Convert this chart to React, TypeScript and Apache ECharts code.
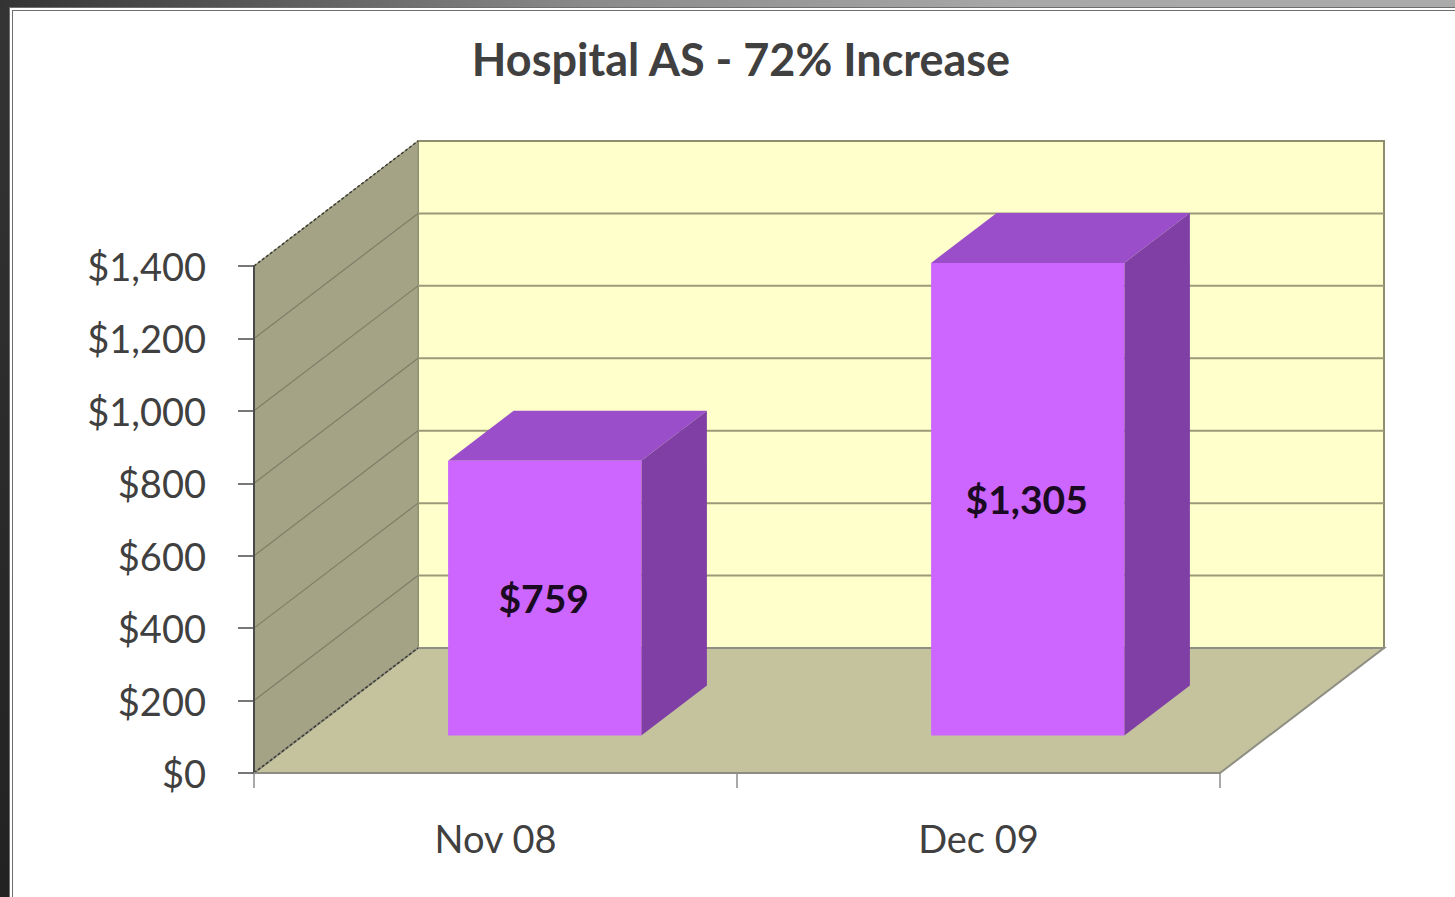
import React, { useEffect, useRef } from "react";
import * as echarts from "echarts";

const categories = ["Nov 08", "Dec 09"];
const values = [759, 1305];
const yTicks = [0, 200, 400, 600, 800, 1000, 1200, 1400];
const titleText = "Hospital AS - 72% Increase";

const DX = 164;
const DY = -125;
const FONT = "Lato, 'Open Sans', sans-serif";

const fmt = (v: number) => "$" + v.toLocaleString("en-US");

export default function App() {
  const ref = useRef<HTMLDivElement>(null);
  useEffect(() => {
    if (!ref.current) return;
    const chart = echarts.init(ref.current, null, { renderer: "svg" });
    const option: any = {
      animation: false,
      title: {
        text: titleText,
        left: 736,
        textAlign: "center",
        top: 31,
        textStyle: { fontFamily: FONT, fontSize: 45, fontWeight: "bold", color: "#404040" },
      },
      grid: { left: 254, top: 266, width: 966, height: 507 },
      xAxis: {
        type: "category",
        data: categories,
        z: 5,
        axisLine: { lineStyle: { color: "#8c8c82", width: 2 } },
        axisTick: { show: true, length: 15, lineStyle: { color: "#8c8c8c", width: 1.5 } },
        axisLabel: { fontFamily: FONT, fontSize: 38, color: "#404040", margin: 46 },
        splitLine: { show: false },
      },
      yAxis: {
        type: "value",
        min: 0,
        max: 1400,
        interval: 200,
        z: 5,
        axisLine: { show: true, lineStyle: { color: "#4a4a4a", width: 2 } },
        axisTick: { show: true, length: 16, lineStyle: { color: "#4a4a4a", width: 1.5 } },
        axisLabel: { fontFamily: FONT, fontSize: 38, color: "#404040", margin: 48, formatter: (v: number) => fmt(v) },
        splitLine: { show: false },
      },
      series: [
        {
          type: "custom",
          silent: true,
          z: 1,
          data: [[0, 0]],
          renderItem: (params: any) => {
            const { x, y, width: w, height: h } = params.coordSys;
            return {
              type: "group",
              children: [
                {
                  type: "rect",
                  shape: { x: x + DX, y: y + DY, width: w, height: h },
                  style: { fill: "#ffffcc", stroke: "#8e8e6e", lineWidth: 2 },
                },
                {
                  type: "polygon",
                  shape: { points: [[x, y + h], [x, y], [x + DX, y + DY], [x + DX, y + h + DY]] },
                  style: { fill: "#a4a385", stroke: "#8e8e72", lineWidth: 1 },
                },
                {
                  type: "polygon",
                  shape: { points: [[x, y + h], [x + w, y + h], [x + w + DX, y + h + DY], [x + DX, y + h + DY]] },
                  style: { fill: "#c4c39e", stroke: "#8e8e82", lineWidth: 2 },
                },
                {
                  type: "line",
                  shape: { x1: x, y1: y, x2: x + DX, y2: y + DY },
                  style: { stroke: "#3c3c30", lineWidth: 1.5, lineDash: [3, 2] },
                },
                {
                  type: "line",
                  shape: { x1: x, y1: y + h, x2: x + DX, y2: y + h + DY },
                  style: { stroke: "#3c3c30", lineWidth: 1.5, lineDash: [3, 2] },
                },
              ],
            };
          },
        },
        {
          type: "custom",
          silent: true,
          z: 2,
          data: yTicks.slice(1, -1).map((v) => [0, v]),
          renderItem: (params: any, api: any) => {
            const { x, width: w } = params.coordSys;
            const yy = api.coord([0, api.value(1)])[1];
            return {
              type: "group",
              children: [
                {
                  type: "line",
                  shape: { x1: x + DX, y1: yy + DY, x2: x + w + DX, y2: yy + DY },
                  style: { stroke: "#9a9a78", lineWidth: 2 },
                },
                {
                  type: "line",
                  shape: { x1: x, y1: yy, x2: x + DX, y2: yy + DY },
                  style: { stroke: "#7e7e68", lineWidth: 1.2 },
                },
              ],
            };
          },
        },
        {
          type: "custom",
          silent: true,
          z: 3,
          data: values.map((v, i) => [i, v]),
          renderItem: (params: any, api: any) => {
            const idx = api.value(0);
            const val = api.value(1);
            const [cx, yTop] = api.coord([idx, val]);
            const yBase = api.coord([idx, 0])[1];
            const band = api.size([1, 0])[0];
            const bw = band * 0.4;
            const d0 = 0.3;
            const d1 = 0.7;
            const left = cx - bw / 2 + d0 * DX;
            const right = left + bw;
            const top = yTop + d0 * DY;
            const bottom = yBase + d0 * DY;
            const ddx = (d1 - d0) * DX;
            const ddy = (d1 - d0) * DY;
            return {
              type: "group",
              children: [
                {
                  type: "polygon",
                  shape: { points: [[left, top], [right, top], [right + ddx, top + ddy], [left + ddx, top + ddy]] },
                  style: { fill: "#9b4ec9" },
                },
                {
                  type: "polygon",
                  shape: { points: [[right, top], [right, bottom], [right + ddx, bottom + ddy], [right + ddx, top + ddy]] },
                  style: { fill: "#7f3fa5" },
                },
                {
                  type: "rect",
                  shape: { x: left, y: top, width: bw, height: bottom - top },
                  style: { fill: "#cc66ff" },
                },
                {
                  type: "text",
                  style: {
                    text: fmt(val),
                    x: (left + right) / 2 - 1,
                    y: (top + bottom) / 2,
                    align: "center",
                    verticalAlign: "middle",
                    font: `bold 39px ${FONT}`,
                    fill: "#1a0a22",
                  },
                },
              ],
            };
          },
        },
      ],
    };
    chart.setOption(option);
    return () => chart.dispose();
  }, []);

  return (
    <div style={{ position: "fixed", left: 0, top: 0, width: 1455, height: 897, background: "linear-gradient(to bottom, #343434, #222222)", overflow: "hidden" }}>
      <div style={{ position: "absolute", left: 0, top: 0, width: 1455, height: 8, background: "linear-gradient(to right, #333333 0%, #8a8a8a 40%, #a8a8a8 70%, #aaaaaa 100%)" }} />
      <div style={{ position: "absolute", left: 9, top: 7, width: 1446, height: 890, boxSizing: "border-box", background: "#ffffff", borderLeft: "4px double #6e6e6e", borderTop: "4px double #6e6e6e" }} />
      <div ref={ref} style={{ position: "absolute", left: 0, top: 0, width: 1455, height: 897 }} />
    </div>
  );
}
